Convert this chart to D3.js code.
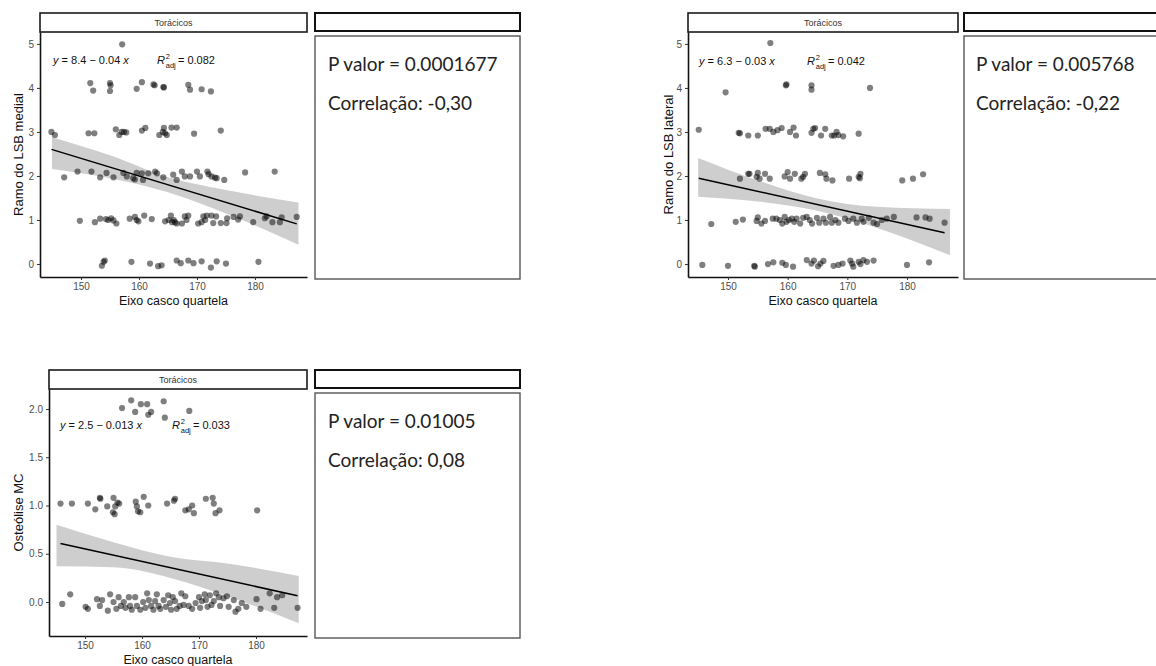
<!DOCTYPE html>
<html>
<head>
<meta charset="utf-8">
<script src="https://cdn.jsdelivr.net/npm/d3@7"></script>
<style>
  body { margin: 0; background: #fff; }
  svg { display: block; }
</style>
</head>
<body>
<svg id="chart" width="1156" height="666"></svg>
<script>
// ---------- data ----------
const stripLabel = "Torácicos";
const xTitle = "Eixo casco quartela";
const yTitles = ["Ramo do LSB medial", "Ramo do LSB lateral", "Osteólise MC"];

// fitted line y = a + b x, adjusted R², p value and correlation per panel
const intercepts = [8.4, 6.3, 2.5];
const slopes = [-0.04, -0.03, -0.013];
const r2adj = [0.082, 0.042, 0.033];
const pValues = ["0.0001677", "0.005768", "0.01005"];
const correlations = [-0.30, -0.22, 0.08];

const yTicksCount = [[0, 1, 2, 3, 4, 5], [0, 1, 2, 3, 4, 5], [0, 0.5, 1, 1.5, 2]];
const xTicks = [150, 160, 170, 180];

// observations (jittered) — Ramo do LSB medial
const medialPts = [
  [157.1,4.99],
  [151.6,4.11],[152.1,3.94],[155.0,4.11],[155.1,4.06],[155.0,3.93],[159.6,3.98],[160.5,4.13],[162.5,4.08],[162.7,4.06],
  [164.2,4.02],[164.3,4.01],[168.5,4.07],[168.8,3.96],[170.8,3.97],[172.4,3.92],
  [144.9,3.0],[145.5,2.93],[151.3,2.97],[152.3,2.97],[156.0,3.06],[156.6,2.93],[157.0,3.0],[157.4,3.0],[157.8,2.99],
  [160.5,3.03],[161.1,3.09],[163.5,2.93],[164.1,3.0],[164.3,3.09],[164.5,2.97],[164.8,2.93],[165.6,3.1],[166.5,3.1],
  [169.5,2.96],[174.1,3.03],
  [147.1,1.97],[149.4,2.10],[151.8,2.10],[153.3,1.97],[154.4,2.07],[155.6,1.97],[157.3,2.07],[157.9,1.99],[159.0,1.95],
  [159.3,1.92],[159.6,2.07],[160.5,2.06],[160.7,1.91],[161.6,2.06],[162.8,2.10],[163.1,2.06],[164.2,1.97],[165.9,2.03],
  [166.5,1.91],[167.4,2.10],[167.9,1.99],[168.8,1.99],[170.0,2.10],[170.5,1.99],[171.8,2.10],[172.0,2.04],[172.5,1.99],
  [173.1,1.96],[173.4,1.95],[174.7,1.91],[178.3,2.08],[183.4,2.10],
  [149.8,0.98],[152.4,0.95],[153.3,1.03],[154.3,1.02],[154.7,1.0],[155.2,1.04],[155.6,0.99],[156.1,0.92],[158.4,1.03],
  [159.3,1.07],[159.6,1.0],[159.9,0.97],[160.9,1.10],[162.2,1.02],[164.5,0.97],[165.1,1.0],[165.5,1.10],[165.7,0.95],
  [166.0,1.0],[166.2,0.95],[166.5,0.92],[167.4,0.92],[167.9,1.08],[168.2,1.0],[168.5,1.10],[170.2,0.92],[170.8,0.95],
  [171.1,1.08],[171.4,1.0],[171.7,1.10],[172.5,1.10],[172.8,0.93],[173.3,1.08],[174.1,0.93],[175.1,0.93],[175.2,1.04],
  [176.3,1.07],[177.1,1.01],[177.4,1.08],[179.7,0.95],[181.7,1.04],[182.0,1.08],[183.0,0.95],[184.3,0.95],[184.6,1.06],
  [187.2,1.07],
  [153.6,-0.04],[153.9,0.05],[154.1,0.08],[158.7,0.05],[161.9,0.01],[163.3,-0.05],[163.9,-0.03],[166.5,0.08],[167.2,0.02],
  [168.5,0.08],[169.4,0.02],[170.8,0.06],[172.4,-0.08],[173.4,0.06],[175.0,0.01],[180.6,0.05]
];

// Ramo do LSB lateral
const lateralPts = [
  [157.1,5.02],
  [149.6,3.90],[159.7,4.06],[159.8,4.08],[164.0,4.06],[164.0,3.96],[173.8,4.0],
  [145.1,3.05],[151.8,2.98],[152.0,2.97],[153.4,2.92],[155.0,2.92],[156.3,3.07],[157.0,3.07],[157.6,3.0],[158.3,3.04],
  [159.0,3.09],[160.4,3.0],[161.0,3.10],[161.4,2.92],[164.0,2.98],[164.3,3.07],[164.6,3.09],[165.6,2.92],[166.3,3.07],
  [167.4,2.92],[167.8,2.92],[168.2,3.0],[168.5,2.93],[169.3,2.9],[171.9,2.96],
  [152.0,1.94],[153.4,2.05],[153.6,2.05],[154.8,1.98],[155.0,2.07],[155.3,1.94],[156.2,2.05],[157.0,1.94],[159.5,1.99],
  [160.0,2.09],[160.4,1.94],[161.2,2.05],[162.3,1.94],[162.6,1.98],[162.9,2.05],[165.4,2.07],[166.3,2.04],[166.5,1.94],
  [167.5,1.90],[170.3,1.94],[171.9,1.98],[172.2,2.05],[172.1,1.95],[179.2,1.90],[181.0,1.94],[182.7,2.04],
  [147.2,0.91],[151.3,0.96],[152.5,1.01],[154.8,0.98],[155.0,1.06],[155.6,0.92],[156.2,0.98],[157.5,1.03],[158.1,1.03],
  [158.7,1.0],[159.1,0.92],[159.5,1.07],[159.8,0.96],[160.2,1.0],[160.7,1.03],[161.1,0.96],[161.5,1.03],[162.1,0.92],
  [162.6,1.05],[163.2,1.07],[163.7,1.0],[164.1,0.92],[164.9,1.05],[165.3,0.94],[166.0,1.03],[166.4,0.94],[167.1,1.07],
  [167.4,0.94],[168.0,1.0],[168.5,0.94],[169.6,1.03],[170.2,0.98],[171.0,1.03],[171.6,0.94],[172.4,1.03],[172.7,0.96],
  [173.6,1.05],[174.4,0.94],[175.0,0.91],[175.8,1.0],[176.6,1.03],[177.8,1.07],[181.6,1.06],[183.1,1.06],[183.8,1.03],
  [186.3,0.94],
  [145.7,-0.02],[150.0,-0.04],[154.5,-0.06],[154.4,-0.04],[156.7,0.0],[157.6,0.04],[159.1,0.03],[159.7,-0.02],[160.9,-0.06],
  [163.2,0.09],[164.0,0.01],[164.4,0.08],[165.1,-0.05],[165.5,0.01],[166.0,0.07],[167.7,-0.04],[168.5,-0.02],[169.2,0.01],
  [170.5,0.08],[170.8,0.01],[171.0,-0.06],[171.9,0.05],[172.2,0.0],[172.7,0.09],[173.3,0.05],[174.4,0.08],[180.0,-0.02],
  [183.7,0.04]
];

// Osteólise MC
const osteolisePts = [
  [156.5,2.01],[158.1,2.09],[158.8,1.97],[159.8,2.05],[160.9,2.05],[161.1,1.94],[161.6,1.97],[163.8,2.08],[164.0,1.91],
  [168.3,1.98],
  [145.7,1.02],[147.7,1.02],[150.5,1.02],[151.8,0.96],[152.6,1.08],[152.7,1.07],[153.9,0.99],[155.0,1.08],[154.9,0.93],
  [155.3,0.99],[155.7,1.03],[155.2,0.91],[156.0,1.02],[158.9,1.04],[159.1,0.99],[159.3,0.94],[160.3,1.09],[159.7,0.93],
  [161.1,1.0],[164.4,1.02],[165.8,1.07],[165.6,1.05],[167.6,0.95],[168.2,0.96],[168.8,1.0],[169.1,0.92],[171.2,1.07],
  [172.4,1.08],[172.6,1.02],[172.9,0.92],[173.6,0.95],[180.2,0.95],
  [146.0,-0.02],[147.4,0.08],[150.1,-0.05],[150.5,-0.07],[152.1,0.03],[152.6,-0.04],[153.0,0.02],[154.0,-0.09],[154.4,0.08],
  [155.0,0.0],[155.5,-0.07],[155.9,0.05],[156.3,-0.04],[156.8,0.0],[157.1,-0.06],[157.7,0.05],[157.9,-0.04],[158.2,-0.08],
  [158.8,0.05],[159.1,-0.04],[159.7,-0.08],[160.2,0.0],[160.6,-0.06],[160.9,0.09],[161.2,0.02],[161.6,-0.04],[162.0,-0.08],
  [162.3,0.01],[162.6,0.08],[162.9,-0.04],[163.2,-0.07],[163.8,0.02],[164.2,-0.05],[164.6,0.07],[164.9,-0.01],[165.1,-0.08],
  [165.4,0.05],[165.8,0.01],[166.1,-0.07],[166.6,-0.04],[166.9,0.09],[167.3,-0.03],[167.6,0.06],[168.2,-0.04],[168.8,-0.07],
  [169.4,-0.01],[170.0,0.05],[170.2,-0.06],[170.5,0.01],[171.0,0.08],[171.2,0.02],[171.5,-0.05],[171.9,0.07],[172.2,-0.03],
  [172.6,0.01],[173.0,0.09],[173.5,0.05],[173.7,-0.04],[174.3,0.04],[174.9,0.06],[175.2,-0.05],[176.1,0.02],[176.4,-0.10],
  [176.9,-0.07],[177.5,-0.01],[178.3,-0.05],[180.1,0.03],[180.8,-0.07],[182.4,0.09],[183.2,-0.06],[183.7,0.05],[184.6,0.07],
  [187.3,-0.06]
];

// 95% confidence band of the fit, sampled along x
const bandX = [[145, 155, 165, 175, 187.5], [145, 155, 165, 175, 187.2], [145, 155, 165, 175, 187.5]];
const bandLo = [[2.16, 1.95, 1.63, 1.15, 0.44], [1.53, 1.42, 1.21, 0.82, 0.20], [0.37, 0.36, 0.25, 0.06, -0.22]];
const bandHi = [[2.88, 2.47, 1.97, 1.68, 1.40], [2.41, 1.90, 1.49, 1.30, 1.25], [0.80, 0.62, 0.47, 0.40, 0.27]];

const points = [medialPts, lateralPts, osteolisePts];

// ---------- layout ----------
const panels = [
  { left: 40, right: 307, top: 32, bottom: 277, stripTop: 13, xDomain: [142.93, 188.97], yDomain: [-0.295, 5.27],
    yTitleX: 18, eqX: 53, eqY: 64, r2X: 157, tickFmt: "d",
    box: { x: 315, w: 205, stripTop: 13, stripBottom: 31, top: 36, bottom: 279, textX: 328, line1: 71, line2: 110 } },
  { left: 688, right: 958, top: 32, bottom: 277, stripTop: 13, xDomain: [143.3, 188.55], yDomain: [-0.294, 5.27],
    yTitleX: 668, eqX: 699, eqY: 65, r2X: 807, tickFmt: "d",
    box: { x: 964, w: 200, stripTop: 13, stripBottom: 31, top: 36, bottom: 279, textX: 976, line1: 71, line2: 110 } },
  { left: 49, right: 307, top: 389, bottom: 636, stripTop: 370, xDomain: [143.68, 188.95], yDomain: [-0.352, 2.207],
    yTitleX: 18, eqX: 60, eqY: 429, r2X: 172, tickFmt: ".1f",
    box: { x: 315, w: 205, stripTop: 370, stripBottom: 388, top: 393, bottom: 638, textX: 328, line1: 428, line2: 467 } }
];

const ptLocale = d3.formatLocale({ decimal: ",", thousands: ".", grouping: [3], currency: ["R$", ""], minus: "-" });
const corrFmt = ptLocale.format(".2f");

const svg = d3.select("#chart");
const sansFont = "'Liberation Sans', Arial, sans-serif";
const boxFont = "Lato, 'Open Sans', sans-serif";

panels.forEach((p, i) => {
  const g = svg.append("g");
  const x = d3.scaleLinear().domain(p.xDomain).range([p.left, p.right]);
  const y = d3.scaleLinear().domain(p.yDomain).range([p.bottom, p.top]);

  // strip
  g.append("rect")
    .attr("x", p.left).attr("y", p.stripTop)
    .attr("width", p.right - p.left).attr("height", p.top - p.stripTop)
    .attr("fill", "#fff").attr("stroke", "#1a1a1a").attr("stroke-width", 1.6);
  g.append("text")
    .attr("x", (p.left + p.right) / 2).attr("y", (p.stripTop + p.top) / 2 + 3.2)
    .attr("text-anchor", "middle").attr("font-family", sansFont).attr("font-size", 9)
    .attr("fill", "#333").text(stripLabel);

  // confidence band
  const band = d3.area()
    .x(d => x(d[0])).y0(d => y(d[1])).y1(d => y(d[2]))
    .curve(d3.curveMonotoneX);
  g.append("path")
    .datum(bandX[i].map((bx, k) => [bx, bandLo[i][k], bandHi[i][k]]))
    .attr("d", band).attr("fill", "#c6c6c6").attr("opacity", 0.85);

  // points
  g.append("g").selectAll("circle").data(points[i]).join("circle")
    .attr("cx", d => x(d[0])).attr("cy", d => y(d[1])).attr("r", 3.1)
    .attr("fill", "#000").attr("fill-opacity", 0.5);

  // fitted line over the range of the observations
  const ext = d3.extent(points[i], d => d[0]);
  const fit = d3.line().x(d => x(d)).y(d => y(intercepts[i] + slopes[i] * d));
  g.append("path").datum(ext).attr("d", fit)
    .attr("fill", "none").attr("stroke", "#000").attr("stroke-width", 1.5);

  // axes
  const xAxis = g.append("g").attr("transform", `translate(0,${p.bottom})`)
    .call(d3.axisBottom(x).tickValues(xTicks).tickSize(3).tickPadding(3).tickSizeOuter(0));
  const yAxis = g.append("g").attr("transform", `translate(${p.left},0)`)
    .call(d3.axisLeft(y).tickValues(yTicksCount[i]).tickFormat(d3.format(p.tickFmt)).tickSize(3).tickPadding(3).tickSizeOuter(0));
  [xAxis, yAxis].forEach(a => {
    a.select(".domain").attr("stroke", "#111").attr("stroke-width", 1.6);
    a.selectAll(".tick line").attr("stroke", "#333");
    a.selectAll(".tick text").attr("fill", "#4d4d4d").attr("font-size", 10).attr("font-family", sansFont);
  });

  // axis titles
  g.append("text")
    .attr("x", (p.left + p.right) / 2).attr("y", p.bottom + 28)
    .attr("text-anchor", "middle").attr("font-family", sansFont).attr("font-size", 12.5)
    .attr("fill", "#111").text(xTitle);
  g.append("text")
    .attr("transform", `translate(${p.yTitleX},${(p.top + p.bottom) / 2}) rotate(-90)`)
    .attr("text-anchor", "middle").attr("dy", "0.35em").attr("font-family", sansFont).attr("font-size", 13)
    .attr("fill", "#111").text(yTitles[i]);

  // equation label
  const eq = g.append("text").attr("x", p.eqX).attr("y", p.eqY)
    .attr("font-family", sansFont).attr("font-size", 11).attr("fill", "#111");
  eq.append("tspan").attr("font-style", "italic").text("y");
  eq.append("tspan").text(` = ${intercepts[i]} \u2212 ${Math.abs(slopes[i])} `);
  eq.append("tspan").attr("font-style", "italic").text("x");

  // adjusted R² label
  const rT = g.append("text").attr("x", p.r2X).attr("y", p.eqY)
    .attr("font-family", sansFont).attr("font-size", 11).attr("font-style", "italic").attr("fill", "#111").text("R");
  const rW = rT.node().getComputedTextLength();
  const sup = g.append("text").attr("x", p.r2X + rW + 0.8).attr("y", p.eqY - 5)
    .attr("font-family", sansFont).attr("font-size", 7.5).attr("fill", "#111").text("2");
  const sub = g.append("text").attr("x", p.r2X + rW + 0.8).attr("y", p.eqY + 3.5)
    .attr("font-family", sansFont).attr("font-size", 7.5).attr("fill", "#111").text("adj");
  const scriptW = Math.max(sup.node().getComputedTextLength(), sub.node().getComputedTextLength());
  g.append("text").attr("x", p.r2X + rW + scriptW + 3).attr("y", p.eqY)
    .attr("font-family", sansFont).attr("font-size", 11).attr("fill", "#111")
    .text(`= ${d3.format(".3f")(r2adj[i])}`);

  // statistics box beside the panel
  const b = p.box;
  g.append("rect")
    .attr("x", b.x).attr("y", b.stripTop).attr("width", b.w).attr("height", b.stripBottom - b.stripTop)
    .attr("fill", "#fff").attr("stroke", "#111").attr("stroke-width", 2);
  g.append("rect")
    .attr("x", b.x).attr("y", b.top).attr("width", b.w).attr("height", b.bottom - b.top)
    .attr("fill", "#fff").attr("stroke", "#555").attr("stroke-width", 1.4);
  g.append("text").attr("x", b.textX).attr("y", b.line1)
    .attr("font-family", boxFont).attr("font-size", 19).attr("fill", "#222")
    .text(`P valor = ${pValues[i]}`);
  g.append("text").attr("x", b.textX).attr("y", b.line2)
    .attr("font-family", boxFont).attr("font-size", 19).attr("fill", "#222")
    .text(`Correlação: ${corrFmt(correlations[i])}`);
});
</script>
</body>
</html>
